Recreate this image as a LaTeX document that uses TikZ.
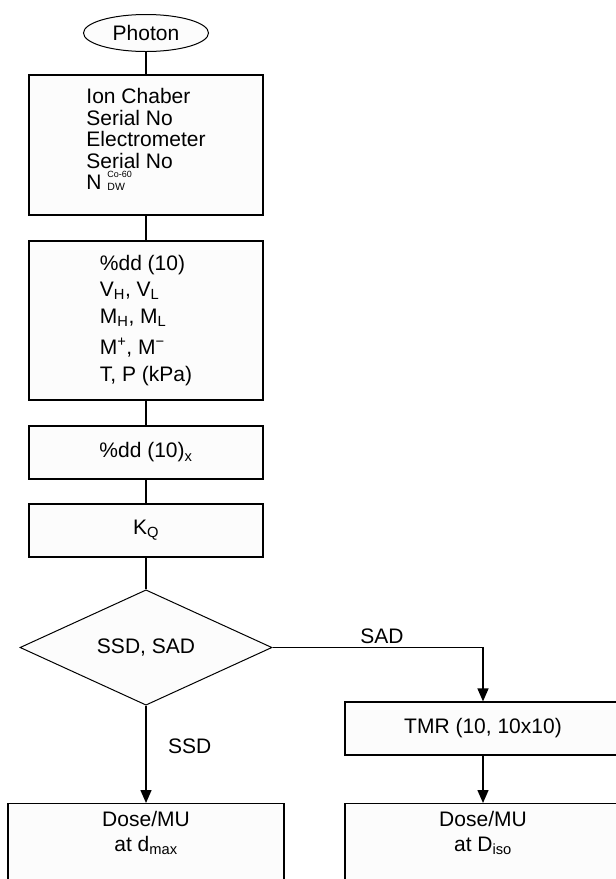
\documentclass[tikz,border=0pt]{standalone}
\usepackage{fontspec}
\setmainfont{Liberation Sans}
\usetikzlibrary{arrows.meta,shapes.geometric,shadows}
\setlength{\lineskiplimit}{-100pt}

\begin{document}
\begin{tikzpicture}[>={Triangle[width=11pt,length=13pt]},x=1pt,y=-1pt,
  line width=1.4pt,
  every node/.style={font=\fontsize{21}{21.5}\selectfont},
  start node/.style={ellipse,draw,line width=1pt,fill=black!1,
    minimum width=125pt,minimum height=37pt,inner sep=0pt},
  flow box/.style={rectangle,draw,line width=1.2pt,fill=black!1,inner sep=0pt,
    drop shadow={shadow xshift=1.2pt,shadow yshift=-1.2pt,fill=black!45,opacity=1}},
  main box/.style={flow box,minimum width=234pt},
  wide box/.style={flow box,minimum width=276pt},
  choice node/.style={diamond,draw,line width=1pt,fill=black!1,
    minimum width=252pt,minimum height=115pt,inner sep=0pt}]

  \useasboundingbox (0,0) rectangle (616,879);

  \node[start node] (photon) at (146,33) {Photon};
  \node[main box,minimum height=140pt,align=left] (chamber) at (146,145)
    {Ion Chaber\\Serial No\\Electrometer\\Serial No\\
     N\ \rlap{\raisebox{12pt}{\fontsize{9}{9}\selectfont Co-60}}\raisebox{-0.5pt}{\fontsize{10.5}{10.5}\selectfont DW}\rule[-12pt]{0pt}{12pt}};
  \node[main box,minimum height=159pt,align=left] (readings) at (146,320.5)
    {\%dd (10)\\[4.5pt]V\textsubscript{H}, V\textsubscript{L}\\[5.5pt]M\textsubscript{H}, M\textsubscript{L}\\[9.5pt]
     M\textsuperscript{+}, M\textsuperscript{−}\\[5.5pt]T, P (kPa)};
  \node[main box,minimum height=53pt] (pdd) at (146,452.5) {\%dd (10)\textsubscript{x}};
  \node[main box,minimum height=53pt] (kq) at (146,530.5) {K\textsubscript{Q}};
  \node[choice node] (setup) at (146,647.5) {SSD, SAD};
  \node[wide box,minimum height=53pt] (tmr) at (483,728.5) {TMR (10, 10x10)};
  \node[wide box,anchor=north,align=center,inner ysep=8pt] (dosessd) at (146,803)
    {Dose/MU\\[3pt]at d\textsubscript{max}\\[40pt]\mbox{}};
  \node[wide box,anchor=north,align=center,inner ysep=8pt] (dosesad) at (483,803)
    {Dose/MU\\[3pt]at D\textsubscript{iso}\\[40pt]\mbox{}};

  \draw (photon) -- (chamber);
  \draw (chamber) -- (readings);
  \draw (readings) -- (pdd);
  \draw (pdd) -- (kq);
  \draw (kq) -- (setup);
  \draw[->] (setup.east) -| node[pos=.26,above] {SAD} (tmr.north);
  \draw[->] (setup.south) -- node[pos=.42,right=18pt] {SSD} (dosessd.north);
  \draw[->] (tmr) -- (dosesad);
\end{tikzpicture}
\end{document}
